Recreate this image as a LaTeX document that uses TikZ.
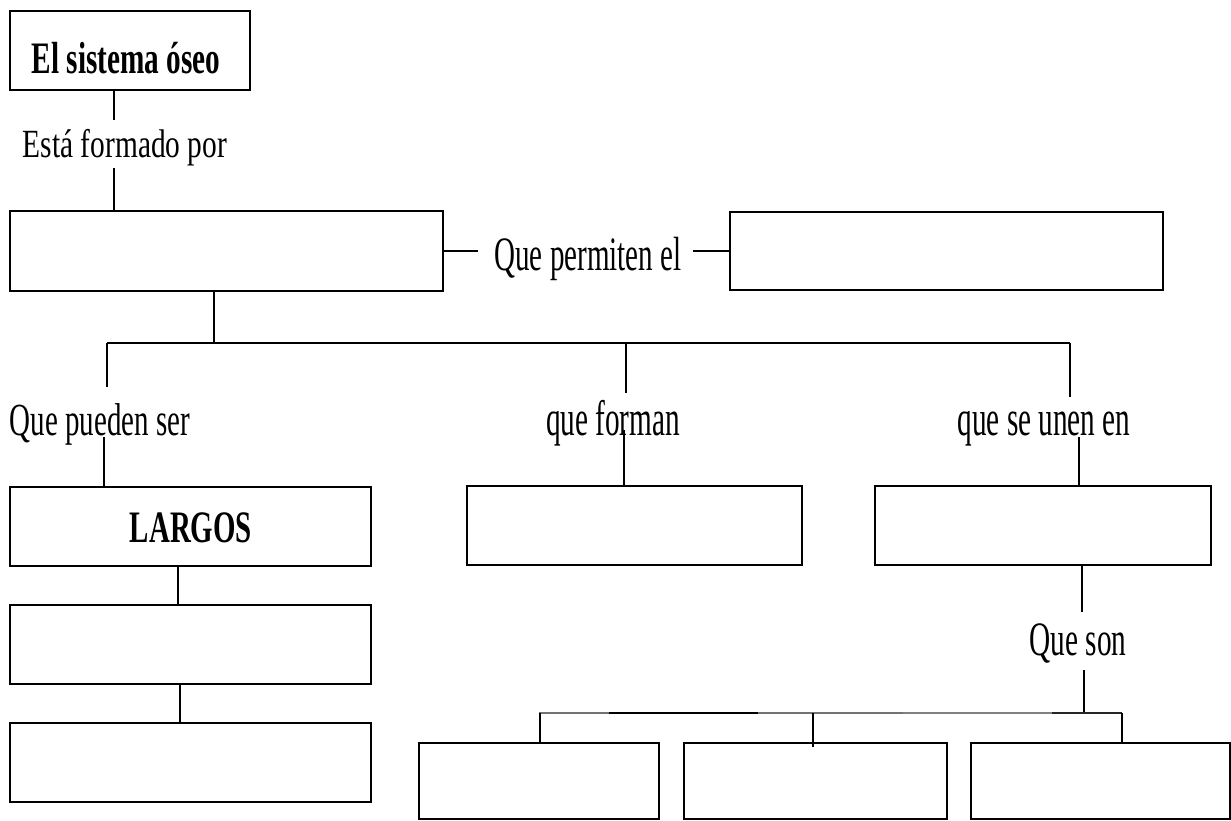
\documentclass[tikz,border=0pt]{standalone}
\usepackage{fontspec}
\usepackage{graphicx}
\setmainfont{Liberation Serif}
\newcommand{\mylbl}[3]{{\fontsize{#1pt}{#1pt}\selectfont\scalebox{#2}[1]{#3}}}
\tikzset{
  box/.style={draw=black, line width=2.6pt, rectangle, inner sep=0pt, outer sep=0pt},
  conn/.style={draw=black, line width=1.4pt},
  lbl/.style={inner sep=0pt, anchor=base, text=black},
}
\begin{document}
\begin{tikzpicture}[x=1pt,y=-1pt]
\fill[white] (0,0) rectangle (1231,821);
\useasboundingbox (0,0) rectangle (1231,821);

% boxes
\node[box, minimum width=240pt, minimum height=79pt] (title) at (130,50.5) {};
\node[box, minimum width=433pt, minimum height=80pt] (A) at (226.5,251) {};
\node[box, minimum width=433pt, minimum height=78pt] (B) at (946.5,251) {};
\node[box, minimum width=361pt, minimum height=79pt] (L1) at (190.5,526.5) {};
\node[box, minimum width=361pt, minimum height=79pt] (L2) at (190.5,644.5) {};
\node[box, minimum width=361pt, minimum height=79pt] (L3) at (190.5,762.5) {};
\node[box, minimum width=335pt, minimum height=79pt] (M) at (634.5,525.5) {};
\node[box, minimum width=336pt, minimum height=79pt] (R) at (1043,525.5) {};
\node[box, minimum width=240pt, minimum height=76pt] (B1) at (539,781) {};
\node[box, minimum width=263pt, minimum height=76pt] (B2) at (815.5,781) {};
\node[box, minimum width=259pt, minimum height=76pt] (B3) at (1100.5,781) {};

% texts
\node[lbl] (ttl) at (126,74) {\bfseries\mylbl{45}{0.65}{El sistema óseo}};
\node[lbl] (est) at (125,158) {\mylbl{40}{0.735}{Está formado por}};
\node[lbl] (perm) at (588,270) {\mylbl{48}{0.605}{Que permiten el}};
\node[lbl] (pueden) at (100,435) {\mylbl{46}{0.63}{Que pueden ser}};
\node[lbl] (forman) at (613,435) {\mylbl{50}{0.585}{que forman}};
\node[lbl] (unen) at (1044,435) {\mylbl{50}{0.585}{que se unen en}};
\node[lbl] (son) at (1078,655) {\mylbl{48}{0.61}{Que son}};
\node[lbl] (largos) at (191,542) {\bfseries\mylbl{45}{0.642}{LARGOS}};

% connectors
\coordinate (busL) at (107,343);
\coordinate (busR) at (1070,343);
\coordinate (bus2L) at (539,713);
\coordinate (bus2R) at (1122,713);

\draw[conn] (title.south -| 114,0) -- ++(0,30);
\draw[conn] (A.north -| 114,0) -- ++(0,-43);
\draw[conn] (A.east) -- ++(35,0);
\draw[conn] (B.west) -- ++(-37,0);
\draw[conn] (A.south -| 214,0) -- (busL -| 214,0);
\draw[conn] (busL) -- (busR);
\draw[conn] (busL) -- ++(0,44);
\draw[conn] (busL -| 626,0) -- ++(0,50);
\draw[conn] (busR) -- ++(0,54);
\draw[conn] (L1.north -| 104,0) -- ++(0,-50);
\draw[conn] (M.north -| 624,0) -- ++(0,-56);
\draw[conn] (R.north -| 1079,0) -- ++(0,-49);
\draw[conn] (L1.south -| 178,0) -- (L2.north -| 178,0);
\draw[conn] (L2.south -| 180,0) -- (L3.north -| 180,0);
\draw[conn] (R.south -| 1082,0) -- ++(0,47);
\draw[conn] (bus2L -| 1084,0) -- ++(0,-43);

\draw[conn, draw=black!55, line width=1.3pt] (bus2L) -- (bus2L -| 609,0);
\draw[conn] (bus2L -| 609,0) -- (bus2L -| 758,0);
\draw[conn, draw=black!55, line width=2.2pt] (bus2L -| 758,0) -- (bus2L -| 903,0);
\draw[conn, draw=black!50, line width=1.8pt] (bus2L -| 903,0) -- (bus2L -| 1052,0);
\draw[conn, draw=black!85] (bus2L -| 1052,0) -- (bus2R);

\draw[conn] (B1.north -| 540,0) -- (bus2L -| 540,0);
\draw[conn] (B2.north -| 813,0) ++(0,4) -- (bus2L -| 813,0);
\draw[conn] (B3.north -| 1122,0) -- (bus2R);
\end{tikzpicture}
\end{document}
